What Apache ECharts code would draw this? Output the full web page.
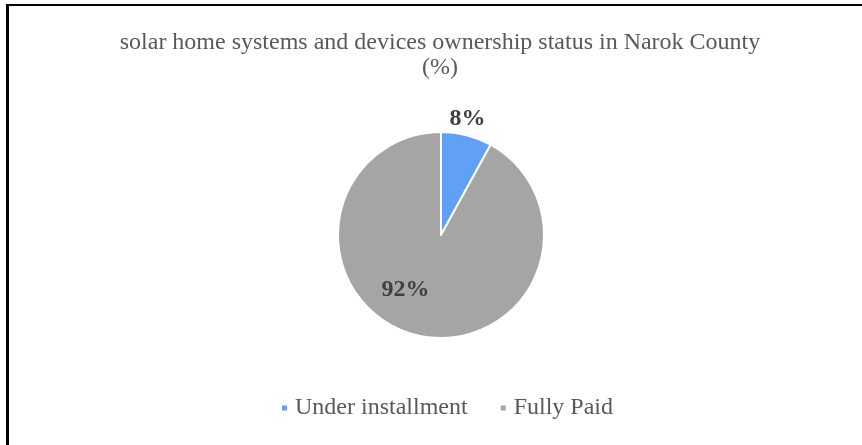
<!DOCTYPE html>
<html>
<head>
<meta charset="utf-8">
<script src="https://cdn.jsdelivr.net/npm/echarts@6/dist/echarts.min.js"></script>
<style>
  html, body { margin: 0; padding: 0; background: #fff; }
  #frame {
    position: absolute; left: 6px; top: 4px; width: 856px; height: 441px;
    border-left: 3px solid #000; border-top: 2px solid #000; box-sizing: border-box;
  }
  #chart { position: absolute; left: 0; top: 0; width: 862px; height: 445px; }
</style>
</head>
<body>
<div id="frame"></div>
<div id="chart"></div>
<script>
const titleText = 'solar home systems and devices ownership status in Narok County\n(%)';
const categories = ['Under installment', 'Fully Paid'];
const shares = [8, 92];
const sliceColors = ['#60a1f6', '#a5a5a5'];
// per-slice label nudges from the default inside position
const labelOffsets = [[13, -63], [-22, 2]];

const chart = echarts.init(document.getElementById('chart'), null, { renderer: 'canvas' });
const serif = '"Liberation Serif", "Times New Roman", serif';

chart.setOption({
  backgroundColor: 'transparent',
  animation: false,
  title: {
    text: titleText,
    left: 440,
    textAlign: 'center',
    top: 30,
    padding: 0,
    textStyle: { fontFamily: serif, fontSize: 24, fontWeight: 'normal', color: '#595959', lineHeight: 25 }
  },
  legend: {
    top: 396,
    left: 280,
    padding: 0,
    icon: 'rect',
    itemWidth: 7,
    itemHeight: 7,
    itemGap: 31,
    data: categories,
    textStyle: { fontFamily: serif, fontSize: 24, color: '#595959', padding: [0, 0, 0, 2] }
  },
  series: [{
    type: 'pie',
    center: [441, 235],
    radius: 103,
    startAngle: 90,
    clockwise: true,
    label: {
      show: true,
      position: 'inside',
      formatter: '{c}%',
      fontFamily: serif,
      fontSize: 24,
      fontWeight: 'bold',
      color: '#404040'
    },
    labelLine: { show: false },
    itemStyle: { borderColor: '#fff', borderWidth: 2 },
    emphasis: { disabled: true },
    data: categories.map((name, i) => ({
      name,
      value: shares[i],
      itemStyle: { color: sliceColors[i] },
      label: { offset: labelOffsets[i] }
    }))
  }]
});
</script>
</body>
</html>
